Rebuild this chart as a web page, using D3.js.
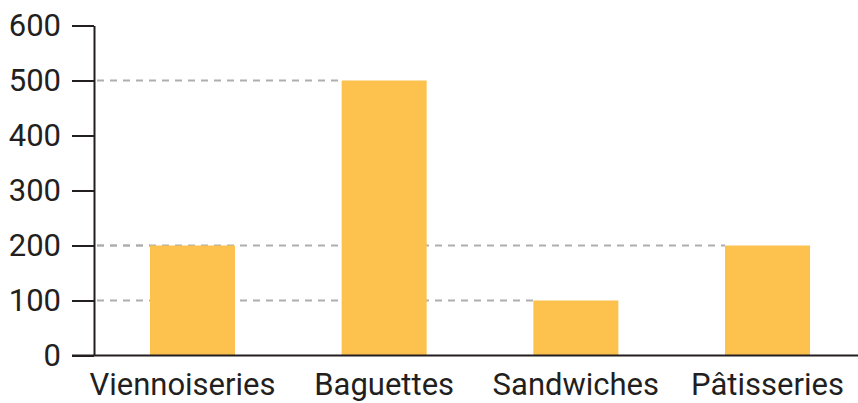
<!DOCTYPE html>
<html>
<head>
<meta charset="utf-8">
<script src="https://cdn.jsdelivr.net/npm/d3@7"></script>
<style>
  html, body { margin: 0; padding: 0; background: #fff; }
  svg { display: block; }
  text { font-family: Roboto, "DejaVu Sans", sans-serif; fill: #231f20; }
</style>
</head>
<body>
<svg id="chart" width="858" height="403"></svg>
<script>
// Ventes par catégorie
const categories = ["Viennoiseries", "Baguettes", "Sandwiches", "Pâtisseries"];
const values = [200, 500, 100, 200];
const yTicks = [0, 100, 200, 300, 400, 500, 600];

const W = 858, H = 403;
const axisX = 94, baseY = 355.5, topY = 25.5;

const svg = d3.select("#chart");

const y = d3.scaleLinear().domain([0, 600]).range([baseY, topY]);

const x = d3.scaleBand()
  .domain(categories)
  .range([axisX, 866])
  .paddingInner(0.5565)
  .paddingOuter(0.292);

// Dashed guide from the axis to each bar's top-left corner
svg.append("g")
  .selectAll("line")
  .data(categories)
  .join("line")
  .attr("x1", axisX)
  .attr("x2", d => x(d))
  .attr("y1", (d, i) => y(values[i]))
  .attr("y2", (d, i) => y(values[i]))
  .attr("stroke", "#aeaeb0")
  .attr("stroke-width", 2)
  .attr("stroke-dasharray", "7,6")
  .attr("stroke-dashoffset", -3);

// Bars
svg.append("g")
  .selectAll("rect")
  .data(categories)
  .join("rect")
  .attr("x", d => x(d))
  .attr("width", x.bandwidth())
  .attr("y", (d, i) => y(values[i]))
  .attr("height", (d, i) => y(0) - y(values[i]))
  .attr("fill", "#fdc24d");

// Y axis
const yAxis = svg.append("g")
  .attr("transform", `translate(${axisX},0)`)
  .call(d3.axisLeft(y).tickValues(yTicks).tickSize(22).tickPadding(11).tickSizeOuter(0));
yAxis.select(".domain").attr("stroke", "#231f20").attr("stroke-width", 2);
yAxis.selectAll(".tick line").attr("stroke", "#231f20").attr("stroke-width", 2);
yAxis.selectAll(".tick text")
  .attr("font-size", 31)
  .attr("font-family", "Roboto, sans-serif")
  .attr("fill", "#231f20");

// X axis baseline
svg.append("line")
  .attr("x1", 72).attr("x2", W)
  .attr("y1", baseY).attr("y2", baseY)
  .attr("stroke", "#231f20")
  .attr("stroke-width", 2);

// Category labels
svg.append("g")
  .selectAll("text")
  .data(categories)
  .join("text")
  .attr("x", d => x(d) + x.bandwidth() / 2)
  .attr("dx", (d, i) => i === 0 ? -10 : 0)
  .attr("y", 395)
  .attr("text-anchor", "middle")
  .attr("font-size", 31)
  .text(d => d);
</script>
</body>
</html>
